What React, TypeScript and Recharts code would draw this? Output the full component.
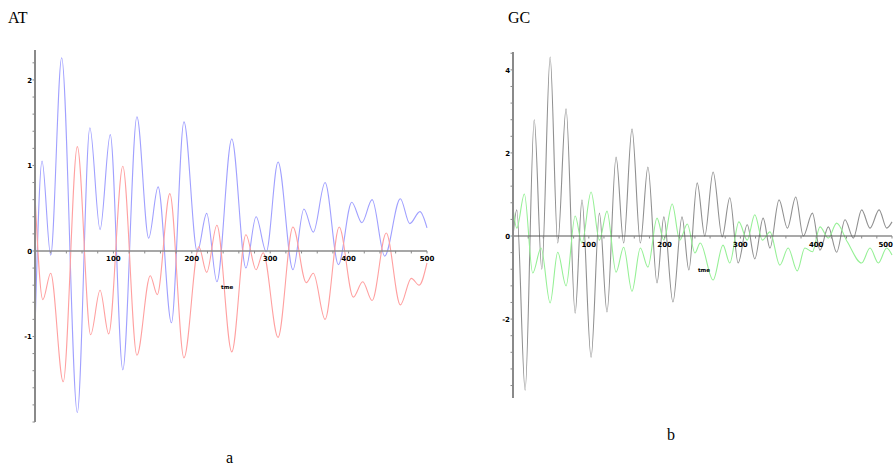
import React from 'react';
import { LineChart, Line, XAxis, YAxis, ReferenceLine, ReferenceDot } from 'recharts';

// ---- Panel a (AT) ----
const blueT = [0, 9, 20, 34, 54, 70, 83, 96, 112, 130, 145, 157, 174, 190, 207, 219, 232, 251, 269, 282, 295, 310, 329, 343, 355, 370, 387, 404, 417, 430, 446, 466, 478, 491, 500];
const blueV = [-0.92, 1.05, -0.05, 2.26, -1.89, 1.44, 0.25, 1.36, -1.39, 1.57, 0.15, 0.75, -0.84, 1.51, -0.01, 0.44, -0.36, 1.31, -0.2, 0.4, -0.01, 1.04, -0.22, 0.49, 0.22, 0.8, -0.16, 0.57, 0.33, 0.6, -0.06, 0.61, 0.32, 0.46, 0.27];
const redT = [0, 10, 20, 36, 54, 71, 83, 94, 112, 130, 147, 156, 172, 190, 209, 219, 232, 251, 269, 282, 291, 310, 329, 346, 355, 370, 388, 406, 418, 430, 448, 466, 480, 490, 500];
const redV = [0.65, -0.57, -0.26, -1.53, 1.22, -0.98, -0.46, -0.97, 0.99, -1.22, -0.29, -0.51, 0.67, -1.25, 0.05, -0.25, 0.3, -1.18, 0.19, -0.22, -0.02, -1.01, 0.28, -0.37, -0.26, -0.8, 0.28, -0.54, -0.36, -0.58, 0.21, -0.63, -0.32, -0.4, -0.14];

// ---- Panel b (GC) ----
const grayT = [0, 5, 16, 28, 38, 49, 59, 70, 82, 91, 103, 114, 124, 136, 146, 157, 168, 178, 190, 199, 211, 223, 232, 243, 253, 264, 276, 286, 297, 309, 319, 330, 339, 351, 362, 373, 383, 395, 405, 416, 427, 438, 449, 460, 471, 483, 493, 500];
const grayV = [0, 0.63, -3.71, 2.8, -0.8, 4.31, -0.17, 3.06, -1.86, 0.87, -2.92, 0.55, -1.83, 1.9, -0.17, 2.58, -0.17, 1.66, -1.13, 0.46, -1.59, 0.46, -0.82, 1.28, 0.0, 1.54, -0.02, 0.92, -0.65, 0.27, -0.55, 0.43, -0.29, 0.87, 0.19, 0.94, 0.0, 0.55, -0.34, 0.22, -0.39, 0.39, -0.05, 0.63, 0.19, 0.63, 0.19, 0.34];
const greenT = [0, 5, 15, 26, 37, 49, 59, 70, 82, 91, 103, 114, 124, 136, 146, 157, 168, 178, 190, 199, 210, 220, 230, 240, 247, 264, 277, 286, 298, 309, 319, 329, 339, 352, 363, 375, 385, 395, 405, 416, 427, 441, 460, 471, 482, 493, 500];
const greenV = [0.67, 0.19, 1.01, -0.89, -0.29, -1.61, -0.39, -1.2, 0.48, -0.17, 1.06, -0.1, 0.6, -0.87, -0.27, -1.33, -0.29, -0.75, 0.43, -0.1, 0.77, -0.1, 0.29, -0.41, -0.17, -1.06, -0.22, -0.65, 0.34, -0.1, 0.51, -0.1, 0.1, -0.7, -0.29, -0.84, -0.29, -0.38, 0.22, -0.05, 0.31, -0.14, -0.65, -0.29, -0.65, -0.29, -0.46];

// ---- ticks ----
const xMajorLabels = [100, 200, 300, 400, 500];
const xMinorStep = 20;
const aYMajorLabels = [-1, 0, 1, 2];
const aYMinorStep = 0.2;
const bYMajorLabels = [-2, 0, 2, 4];
const bYMinorStep = 0.4;

const aDomain = [-2.0, 2.35];
const bDomain = [-3.9, 4.43];
const xDomain = [0, 500];

const toData = (ts: number[], vs: number[]) => ts.map((t, i) => ({ t, v: vs[i] }));

const range = (lo: number, hi: number, step: number) => {
  const out: number[] = [];
  const n = Math.floor((hi - lo) / step + 1e-6);
  for (let i = 0; i <= n; i++) out.push(Math.round((lo + i * step) * 1000) / 1000);
  return out;
};

const labelStyle: React.CSSProperties = {
  fontSize: 7,
  fontWeight: 'bold',
  fontFamily: 'DejaVu Sans, sans-serif',
};

const AXIS = '#8a8a8a';

function xTicks(lastAnchorEnd: boolean) {
  return range(xDomain[0], xDomain[1], xMinorStep).map((t) => {
    const lab = xMajorLabels.includes(t) ? String(t) : null;
    const endAnchor = lastAnchorEnd && t === xDomain[1];
    return (
      <ReferenceDot
        key={'x' + t}
        x={t}
        y={0}
        ifOverflow="visible"
        shape={(p: any) => (
          <g>
            <line x1={p.cx} y1={p.cy} x2={p.cx} y2={p.cy + 2.5} stroke={AXIS} strokeWidth={1} />
            {lab && (
              <text
                x={endAnchor ? p.cx + 1 : p.cx}
                y={p.cy + 10.5}
                textAnchor={endAnchor ? 'end' : 'middle'}
                fill="#000"
                style={labelStyle}
              >
                {lab}
              </text>
            )}
          </g>
        )}
      />
    );
  });
}

function yTicks(dom: number[], step: number, majors: number[]) {
  const start = Math.ceil(dom[0] / step) * step;
  return range(start, dom[1], step).map((v) => {
    const isMajor = majors.some((m) => Math.abs(m - v) < 1e-6);
    return (
      <ReferenceDot
        key={'y' + v}
        x={0}
        y={v}
        ifOverflow="visible"
        shape={(p: any) => (
          <g>
            <line x1={p.cx - 2.5} y1={p.cy} x2={p.cx} y2={p.cy} stroke={AXIS} strokeWidth={1} />
            {isMajor && (
              <text x={p.cx - 3} y={p.cy + 3} textAnchor="end" fill="#000" style={labelStyle}>
                {v === 0 ? '0' : String(v)}
              </text>
            )}
          </g>
        )}
      />
    );
  });
}

function axisLabel(t: number, v: number) {
  return (
    <ReferenceDot
      x={t}
      y={v}
      ifOverflow="visible"
      shape={(p: any) => (
        <text x={p.cx} y={p.cy + 2} textAnchor="middle" fill="#000" style={{ ...labelStyle, fontSize: 5.5 }}>
          tme
        </text>
      )}
    />
  );
}

const textStyle: React.CSSProperties = {
  position: 'absolute',
  fontFamily: 'Liberation Serif, Times New Roman, serif',
  fontSize: 16,
  lineHeight: '18px',
  color: '#000',
};

export default function App() {
  return (
    <div style={{ position: 'absolute', left: 0, top: 0, width: 894, height: 471, background: '#fff', overflow: 'hidden' }}>
      <div style={{ ...textStyle, left: 8, top: 9 }}>AT</div>
      <div style={{ ...textStyle, left: 226, top: 449 }}>a</div>
      <div style={{ ...textStyle, left: 508, top: 9 }}>GC</div>
      <div style={{ ...textStyle, left: 667, top: 426 }}>b</div>

      <div style={{ position: 'absolute', left: 0, top: 0 }}>
        <LineChart width={440} height={440} margin={{ top: 50, left: 35, right: 13, bottom: 18 }}>
          <XAxis type="number" dataKey="t" domain={xDomain} hide allowDuplicatedCategory={false} />
          <YAxis type="number" domain={aDomain} hide />
          <Line data={toData(blueT, blueV)} dataKey="v" type="monotone" stroke="#a0a0ff" strokeWidth={1.1} dot={false} isAnimationActive={false} />
          <Line data={toData(redT, redV)} dataKey="v" type="monotone" stroke="#ffa0a0" strokeWidth={1.1} dot={false} isAnimationActive={false} />
          <ReferenceLine y={0} stroke={AXIS} strokeWidth={1.5} />
          <ReferenceLine x={0} stroke={AXIS} strokeWidth={2} />
          {xTicks(false)}
          {yTicks(aDomain, aYMinorStep, aYMajorLabels)}
          {axisLabel(245, -0.42)}
        </LineChart>
      </div>

      <div style={{ position: 'absolute', left: 480, top: 0 }}>
        <LineChart width={414} height={420} margin={{ top: 52, left: 33, right: 2, bottom: 22 }}>
          <XAxis type="number" dataKey="t" domain={xDomain} hide allowDuplicatedCategory={false} />
          <YAxis type="number" domain={bDomain} hide />
          <Line data={toData(grayT, grayV)} dataKey="v" type="monotone" stroke="#909090" strokeWidth={1.1} dot={false} isAnimationActive={false} />
          <Line data={toData(greenT, greenV)} dataKey="v" type="monotone" stroke="#96f096" strokeWidth={1.1} dot={false} isAnimationActive={false} />
          <ReferenceLine y={0} stroke="#555" strokeWidth={1.2} />
          <ReferenceLine x={0} stroke={AXIS} strokeWidth={2} />
          {xTicks(true)}
          {yTicks(bDomain, bYMinorStep, bYMajorLabels)}
          {axisLabel(252, -0.82)}
        </LineChart>
      </div>
    </div>
  );
}
